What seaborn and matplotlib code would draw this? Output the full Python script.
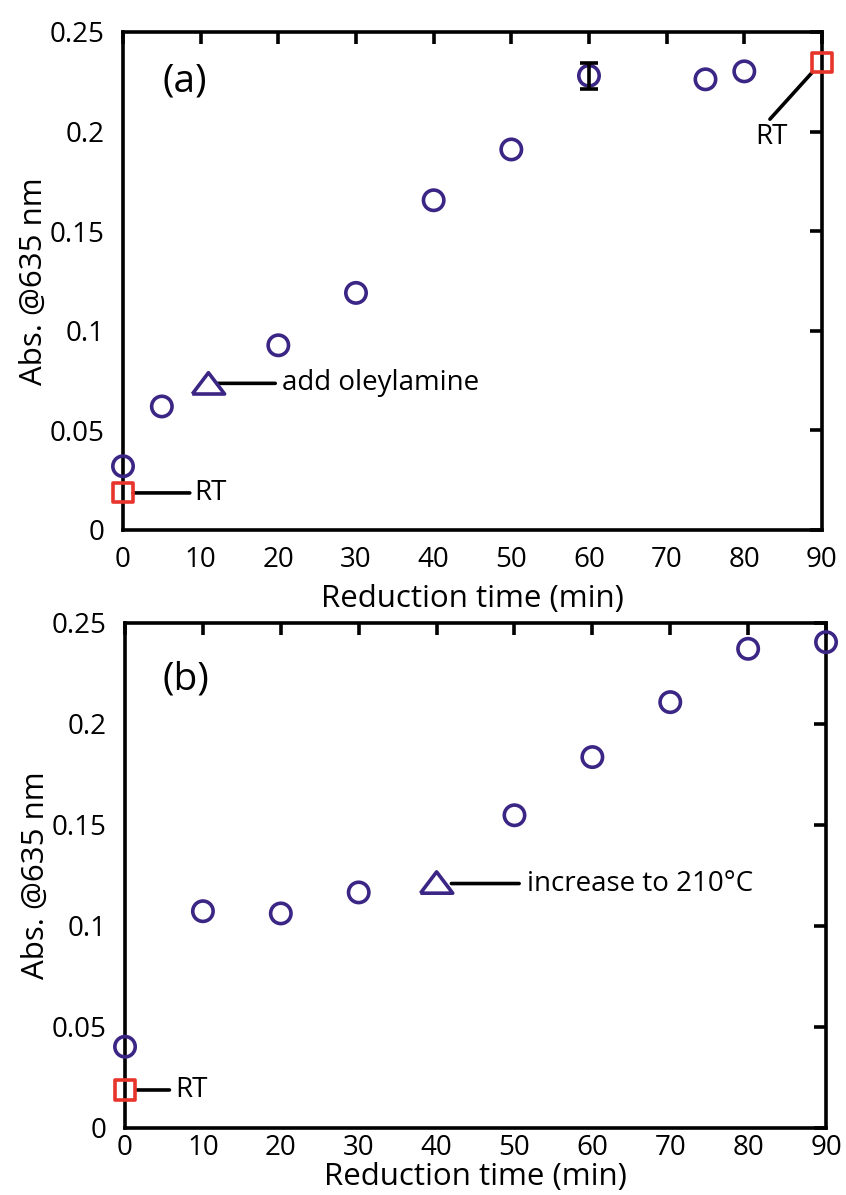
import matplotlib
matplotlib.use("Agg")
import matplotlib.pyplot as plt
import seaborn as sns
import numpy as np
import pandas as pd

# ---- data: panel (a) ----
a_time = [0, 5, 20, 30, 40, 50, 60, 75, 80]
a_abs = [0.032, 0.062, 0.0927, 0.119, 0.1655, 0.191, 0.228, 0.2262, 0.2302]
a_err_time = [60]
a_err_abs = [0.228]
a_err = [0.0066]
a_tri_time = [11]
a_tri_abs = [0.0736]
a_sq_time = [0, 90]
a_sq_abs = [0.0186, 0.2346]

# ---- data: panel (b) ----
b_time = [0, 10, 20, 30, 50, 60, 70, 80, 90]
b_abs = [0.0402, 0.1073, 0.1062, 0.1166, 0.1548, 0.1836, 0.2108, 0.2372, 0.2405]
b_tri_time = [40]
b_tri_abs = [0.1215]
b_sq_time = [0]
b_sq_abs = [0.0188]

x_ticks = [0, 10, 20, 30, 40, 50, 60, 70, 80, 90]
y_ticks = [0, 0.05, 0.1, 0.15, 0.2, 0.25]
y_ticklabels = ["0", "0.05", "0.1", "0.15", "0.2", "0.25"]

sns.set_theme(style="white")
plt.rcParams["font.family"] = ["Open Sans", "DejaVu Sans"]
plt.rcParams["text.color"] = "black"
plt.rcParams["axes.labelcolor"] = "black"

PURPLE = "#3b2585"
RED = "#e8352b"
LW = 2.6
TICK_FS = 20
LABEL_FS = 22.5
ANN_FS = 20

fig = plt.figure(figsize=(8.46, 11.95), dpi=100)
ax_a = fig.add_axes([0.1454, 0.5565, 0.8262, 0.4168])
ax_b = fig.add_axes([0.1478, 0.0561, 0.8286, 0.4226])

tri_marker = [(-1, -0.66), (1, -0.66), (0, 0.66), (-1, -0.66)]


def style_axes(ax, xpad, xlabelpad):
    ax.set_xlim(0, 90)
    ax.set_ylim(0, 0.25)
    ax.set_xticks(x_ticks)
    ax.set_yticks(y_ticks)
    ax.set_yticklabels(y_ticklabels)
    for s in ax.spines.values():
        s.set_visible(True)
        s.set_linewidth(LW)
        s.set_color("black")
    ax.tick_params(axis="both", which="both", direction="in", length=8.5,
                   width=LW, top=True, right=True, colors="black",
                   labelsize=TICK_FS)
    ax.tick_params(axis="y", pad=13)
    ax.tick_params(axis="x", pad=xpad)
    ax.set_xlabel("Reduction time (min)", fontsize=LABEL_FS, labelpad=xlabelpad)
    ax.set_ylabel("Abs. @635 nm", fontsize=LABEL_FS, labelpad=1)
    ax.grid(False)


def circles(ax, x, y):
    df = pd.DataFrame({"t": x, "a": y})
    sns.scatterplot(data=df, x="t", y="a", ax=ax, marker="o", s=215,
                    facecolor="none", edgecolor=PURPLE, linewidth=LW,
                    clip_on=False, zorder=5, legend=False)


def squares(ax, x, y):
    df = pd.DataFrame({"t": x, "a": y})
    sns.scatterplot(data=df, x="t", y="a", ax=ax, marker="s", s=190,
                    facecolor="none", edgecolor=RED, linewidth=LW,
                    clip_on=False, zorder=6, legend=False)


def triangles(ax, x, y):
    df = pd.DataFrame({"t": x, "a": y})
    sns.scatterplot(data=df, x="t", y="a", ax=ax, marker=tri_marker, s=540,
                    facecolor="none", edgecolor=PURPLE, linewidth=LW,
                    clip_on=False, zorder=5, legend=False)


def leader(ax, x0, y0, x1, y1):
    ax.annotate("", xy=(x0, y0), xytext=(x1, y1),
                arrowprops=dict(arrowstyle="-", color="black", lw=LW,
                                shrinkA=0, shrinkB=0))


# ---- panel (a) ----
style_axes(ax_a, xpad=11.5, xlabelpad=7)
circles(ax_a, a_time, a_abs)
triangles(ax_a, a_tri_time, a_tri_abs)
squares(ax_a, a_sq_time, a_sq_abs)
ax_a.errorbar(a_err_time, a_err_abs, yerr=a_err, fmt="none", ecolor="black",
              elinewidth=LW, capsize=6.8, capthick=LW, zorder=7, clip_on=False)
ax_a.text(0.057, 0.9, "(a)", transform=ax_a.transAxes, fontsize=28,
          ha="left", va="center")
leader(ax_a, 1.3, 0.0186, 8.6, 0.0186)
ax_a.text(9.2, 0.0186, "RT", fontsize=ANN_FS, ha="left", va="center")
leader(ax_a, 12.2, 0.0736, 19.6, 0.0736)
ax_a.text(20.5, 0.0736, "add oleylamine", fontsize=ANN_FS, ha="left", va="center")
leader(ax_a, 88.7, 0.2295, 83.3, 0.2062)
ax_a.text(83.5, 0.1975, "RT", fontsize=ANN_FS, ha="center", va="center")

# ---- panel (b) ----
style_axes(ax_b, xpad=4, xlabelpad=0.5)
circles(ax_b, b_time, b_abs)
triangles(ax_b, b_tri_time, b_tri_abs)
squares(ax_b, b_sq_time, b_sq_abs)
ax_b.text(0.054, 0.889, "(b)", transform=ax_b.transAxes, fontsize=28,
          ha="left", va="center")
leader(ax_b, 1.5, 0.0188, 5.7, 0.0188)
ax_b.text(6.5, 0.0188, "RT", fontsize=ANN_FS, ha="left", va="center")
leader(ax_b, 41.9, 0.121, 50.6, 0.121)
ax_b.text(51.6, 0.121, "increase to 210°C", fontsize=ANN_FS, ha="left", va="center")

fig.savefig("out.png", dpi=100)
